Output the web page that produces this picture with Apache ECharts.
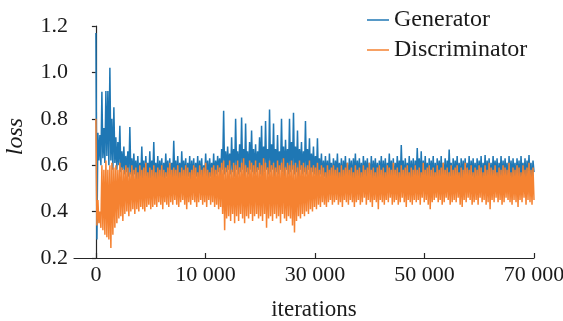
<!DOCTYPE html>
<html>
<head>
<meta charset="utf-8">
<script src="https://cdn.jsdelivr.net/npm/echarts@6/dist/echarts.min.js"></script>
<style>
    html, body { margin: 0; padding: 0; background: #fff; }
    #main { width: 563px; height: 321px; }
</style>
</head>
<body>
<div id="main"></div>
<script>
    // 刻度位置和刻度文字
    var xTickValues = [0, 20000, 40000, 60000, 80000];
    var xTickLabels = ['0', '10 000', '30 000', '50 000', '70 000'];
    var yTicks = [0.2, 0.4, 0.6, 0.8, 1.0, 1.2];

    // Generator loss，上沿 / 下沿 (从图上读出来的)
    var generatorHigh = [
        1.17, 0.74, 0.73, 0.917, 0.76, 0.92, 0.92, 1.02, 0.80, 0.85,
        0.72, 0.70, 0.77, 0.66, 0.68, 0.64, 0.66, 0.765, 0.63, 0.65,
        0.62, 0.64, 0.61, 0.68, 0.62, 0.64, 0.61, 0.66, 0.62, 0.70,
        0.61, 0.64, 0.62, 0.63, 0.61, 0.65, 0.62, 0.63, 0.61, 0.705,
        0.62, 0.64, 0.61, 0.66, 0.62, 0.63, 0.61, 0.64, 0.62, 0.63,
        0.61, 0.64, 0.62, 0.63, 0.60, 0.65, 0.62, 0.63, 0.61, 0.65,
        0.62, 0.64, 0.63, 0.67, 0.835, 0.66, 0.68, 0.65, 0.72, 0.67,
        0.80, 0.66, 0.69, 0.806, 0.67, 0.78, 0.66, 0.70, 0.75, 0.67,
        0.69, 0.66, 0.72, 0.77, 0.68, 0.79, 0.67, 0.84, 0.69, 0.78,
        0.67, 0.73, 0.66, 0.80, 0.68, 0.71, 0.67, 0.80, 0.70, 0.826,
        0.68, 0.75, 0.67, 0.70, 0.66, 0.79, 0.67, 0.716, 0.65, 0.68,
        0.64, 0.716, 0.63, 0.65, 0.62, 0.64, 0.62, 0.65, 0.61, 0.63,
        0.62, 0.65, 0.61, 0.63, 0.62, 0.64, 0.61, 0.63, 0.62, 0.63,
        0.65, 0.62, 0.63, 0.61, 0.64, 0.62, 0.63, 0.61, 0.64, 0.62,
        0.63, 0.61, 0.62, 0.64, 0.62, 0.63, 0.61, 0.65, 0.62, 0.63,
        0.61, 0.64, 0.62, 0.687, 0.62, 0.63, 0.61, 0.64, 0.62, 0.63,
        0.62, 0.674, 0.63, 0.66, 0.62, 0.64, 0.61, 0.63, 0.62, 0.64,
        0.61, 0.63, 0.62, 0.64, 0.61, 0.63, 0.62, 0.668, 0.61, 0.63,
        0.62, 0.64, 0.61, 0.63, 0.62, 0.63, 0.61, 0.64, 0.62, 0.63,
        0.61, 0.63, 0.62, 0.64, 0.61, 0.644, 0.62, 0.63, 0.61, 0.64,
        0.62, 0.63, 0.61, 0.64, 0.62, 0.63, 0.61, 0.64, 0.62, 0.63,
        0.61, 0.63, 0.62, 0.64, 0.61, 0.63, 0.62, 0.644, 0.61, 0.62
    ];
    var generatorLow = [
        0.28, 0.62, 0.60, 0.63, 0.61, 0.64, 0.60, 0.62, 0.58, 0.61,
        0.58, 0.60, 0.57, 0.58, 0.56, 0.57, 0.55, 0.56, 0.55, 0.56,
        0.54, 0.53, 0.55, 0.54, 0.52, 0.55, 0.53, 0.54, 0.55, 0.53,
        0.54, 0.52, 0.55, 0.53, 0.54, 0.55, 0.53, 0.52, 0.54, 0.55,
        0.53, 0.54, 0.52, 0.55, 0.54, 0.53, 0.55, 0.52, 0.54, 0.53,
        0.55, 0.53, 0.54, 0.52, 0.55, 0.54, 0.53, 0.55, 0.54, 0.53,
        0.56, 0.57, 0.55, 0.58, 0.56, 0.57, 0.58, 0.56, 0.57, 0.55,
        0.58, 0.56, 0.57, 0.58, 0.55, 0.57, 0.56, 0.58, 0.57, 0.56,
        0.57, 0.58, 0.56, 0.55, 0.57, 0.58, 0.56, 0.57, 0.58, 0.55,
        0.57, 0.56, 0.58, 0.57, 0.55, 0.58, 0.56, 0.57, 0.58, 0.56,
        0.57, 0.55, 0.58, 0.56, 0.57, 0.56, 0.58, 0.55, 0.57, 0.56,
        0.55, 0.54, 0.56, 0.53, 0.55, 0.54, 0.52, 0.55, 0.53, 0.54,
        0.55, 0.53, 0.54, 0.52, 0.55, 0.54, 0.53, 0.55, 0.52, 0.54,
        0.53, 0.55, 0.54, 0.52, 0.54, 0.55, 0.53, 0.54, 0.52, 0.55,
        0.54, 0.53, 0.55, 0.52, 0.54, 0.53, 0.55, 0.54, 0.53, 0.52,
        0.55, 0.54, 0.53, 0.55, 0.52, 0.54, 0.55, 0.53, 0.54, 0.52,
        0.54, 0.55, 0.53, 0.52, 0.55, 0.54, 0.53, 0.55, 0.54, 0.52,
        0.53, 0.55, 0.54, 0.52, 0.55, 0.53, 0.54, 0.55, 0.52, 0.54,
        0.55, 0.53, 0.52, 0.54, 0.55, 0.53, 0.54, 0.52, 0.55, 0.54,
        0.53, 0.54, 0.55, 0.52, 0.54, 0.53, 0.55, 0.54, 0.52, 0.55,
        0.54, 0.52, 0.55, 0.53, 0.54, 0.55, 0.52, 0.54, 0.53, 0.55,
        0.53, 0.54, 0.52, 0.55, 0.54, 0.53, 0.55, 0.54, 0.52, 0.57
    ];

    // Discriminator loss，上沿 / 下沿
    var discriminatorHigh = [
        0.80, 0.45, 0.40, 0.60, 0.58, 0.62, 0.58, 0.60, 0.61, 0.59,
        0.60, 0.58, 0.61, 0.59, 0.58, 0.60, 0.59, 0.57, 0.60, 0.58,
        0.59, 0.57, 0.60, 0.58, 0.59, 0.61, 0.57, 0.59, 0.58, 0.60,
        0.57, 0.59, 0.58, 0.60, 0.58, 0.57, 0.59, 0.61, 0.58, 0.59,
        0.58, 0.60, 0.57, 0.59, 0.58, 0.60, 0.59, 0.57, 0.58, 0.60,
        0.59, 0.57, 0.60, 0.58, 0.59, 0.61, 0.58, 0.57, 0.59, 0.60,
        0.58, 0.60, 0.59, 0.61, 0.62, 0.59, 0.60, 0.62, 0.58, 0.61,
        0.60, 0.62, 0.59, 0.61, 0.63, 0.60, 0.59, 0.62, 0.61, 0.60,
        0.62, 0.59, 0.61, 0.60, 0.63, 0.61, 0.59, 0.62, 0.60, 0.61,
        0.59, 0.62, 0.60, 0.61, 0.63, 0.59, 0.61, 0.60, 0.62, 0.60,
        0.61, 0.59, 0.62, 0.60, 0.61, 0.59, 0.60, 0.62, 0.59, 0.60,
        0.59, 0.61, 0.58, 0.60, 0.59, 0.57, 0.60, 0.58, 0.59, 0.60,
        0.58, 0.59, 0.57, 0.60, 0.58, 0.59, 0.61, 0.58, 0.59, 0.57,
        0.60, 0.58, 0.59, 0.57, 0.60, 0.58, 0.59, 0.61, 0.58, 0.59,
        0.57, 0.59, 0.60, 0.58, 0.59, 0.57, 0.60, 0.59, 0.58, 0.61,
        0.58, 0.59, 0.57, 0.60, 0.58, 0.59, 0.60, 0.57, 0.59, 0.58,
        0.60, 0.58, 0.59, 0.57, 0.61, 0.58, 0.59, 0.60, 0.58, 0.59,
        0.57, 0.60, 0.58, 0.59, 0.61, 0.58, 0.59, 0.57, 0.60, 0.58,
        0.59, 0.60, 0.57, 0.59, 0.58, 0.61, 0.59, 0.58, 0.60, 0.57,
        0.59, 0.58, 0.60, 0.59, 0.57, 0.60, 0.58, 0.61, 0.59, 0.58,
        0.60, 0.57, 0.59, 0.58, 0.60, 0.59, 0.58, 0.61, 0.57, 0.59,
        0.58, 0.60, 0.59, 0.57, 0.60, 0.58, 0.59, 0.61, 0.58, 0.59
    ];
    var discriminatorLow = [
        0.34, 0.35, 0.33, 0.32, 0.30, 0.29, 0.28, 0.243, 0.30, 0.33,
        0.35, 0.37, 0.38, 0.36, 0.39, 0.40, 0.38, 0.40, 0.41, 0.39,
        0.41, 0.40, 0.42, 0.41, 0.40, 0.42, 0.43, 0.41, 0.42, 0.43,
        0.42, 0.44, 0.43, 0.41, 0.44, 0.43, 0.42, 0.44, 0.43, 0.45,
        0.43, 0.42, 0.44, 0.45, 0.43, 0.41, 0.44, 0.43, 0.45, 0.44,
        0.42, 0.44, 0.45, 0.43, 0.44, 0.42, 0.45, 0.43, 0.44, 0.42,
        0.43, 0.41, 0.42, 0.39, 0.32, 0.37, 0.38, 0.36, 0.39, 0.35,
        0.38, 0.36, 0.39, 0.37, 0.35, 0.38, 0.37, 0.39, 0.36, 0.38,
        0.39, 0.37, 0.38, 0.36, 0.39, 0.33, 0.37, 0.38, 0.36, 0.39,
        0.37, 0.38, 0.35, 0.39, 0.37, 0.36, 0.38, 0.37, 0.34, 0.31,
        0.36, 0.38, 0.37, 0.39, 0.38, 0.40, 0.39, 0.41, 0.40, 0.42,
        0.41, 0.43, 0.42, 0.44, 0.43, 0.42, 0.44, 0.45, 0.43, 0.44,
        0.45, 0.43, 0.44, 0.42, 0.45, 0.44, 0.43, 0.45, 0.44, 0.42,
        0.44, 0.45, 0.43, 0.44, 0.46, 0.43, 0.45, 0.44, 0.42, 0.45,
        0.44, 0.41, 0.45, 0.44, 0.43, 0.45, 0.44, 0.46, 0.43, 0.44,
        0.45, 0.43, 0.44, 0.46, 0.44, 0.42, 0.45, 0.44, 0.43, 0.45,
        0.44, 0.45, 0.43, 0.46, 0.44, 0.45, 0.43, 0.41, 0.44, 0.45,
        0.46, 0.44, 0.45, 0.43, 0.44, 0.46, 0.45, 0.43, 0.44, 0.45,
        0.44, 0.46, 0.43, 0.42, 0.45, 0.44, 0.46, 0.45, 0.43, 0.44,
        0.45, 0.43, 0.46, 0.44, 0.45, 0.43, 0.44, 0.41, 0.45, 0.44,
        0.46, 0.44, 0.45, 0.43, 0.44, 0.46, 0.45, 0.44, 0.43, 0.45,
        0.44, 0.42, 0.45, 0.44, 0.46, 0.43, 0.45, 0.44, 0.43, 0.45
    ];

    var xEnd = 80000;   // 最后一个刻度
    var fontName = 'Liberation Serif';

    // 上沿、下沿交替排开，按序号均匀铺到 0 ~ xEnd
    function toPairs(high, low) {
        var out = [];
        var total = high.length * 2;
        for (var i = 0; i < high.length; i++) {
            out.push([(2 * i) * xEnd / (total - 1), high[i]]);
            out.push([(2 * i + 1) * xEnd / (total - 1), low[i]]);
        }
        return out;
    }

    var myChart = echarts.init(document.getElementById('main'), null, { renderer: 'canvas' });

    var option = {
        animation: false,
        backgroundColor: '#fff',
        grid: {
            left: 74,
            right: 29,
            top: 26,
            bottom: 63,
            outerBoundsMode: 'none'
        },
        legend: {
            orient: 'vertical',
            left: 367,
            top: 8,
            padding: 0,
            icon: 'rect',
            itemWidth: 22,
            itemHeight: 1.5,
            itemGap: 6,
            textStyle: {
                fontFamily: fontName,
                fontSize: 24,
                color: '#1a1a1a',
                lineHeight: 22
            },
            data: ['Generator', 'Discriminator']
        },
        xAxis: {
            type: 'value',
            min: -4000,
            max: xEnd,
            name: 'iterations',
            nameLocation: 'middle',
            nameGap: 40,
            nameTextStyle: {
                fontFamily: fontName,
                fontSize: 23,
                color: '#1a1a1a',
                padding: [0, 0, 0, 20]
            },
            axisLine: {
                lineStyle: { color: '#262626', width: 1.2 }
            },
            axisTick: {
                show: true,
                inside: true,
                length: 5,
                customValues: xTickValues,
                lineStyle: { color: '#262626', width: 1.2 }
            },
            axisLabel: {
                customValues: xTickValues,
                margin: 6,
                fontFamily: fontName,
                fontSize: 22,
                color: '#1a1a1a',
                formatter: function (value) {
                    var idx = xTickValues.indexOf(value);
                    return idx >= 0 ? xTickLabels[idx] : '';
                }
            },
            splitLine: { show: false }
        },
        yAxis: {
            type: 'value',
            min: yTicks[0],
            max: yTicks[yTicks.length - 1],
            interval: 0.2,
            name: 'loss',
            nameLocation: 'middle',
            nameGap: 46,
            nameRotate: 90,
            nameTextStyle: {
                fontFamily: fontName,
                fontStyle: 'italic',
                fontSize: 24,
                color: '#1a1a1a',
                padding: [0, 0, 0, 11]
            },
            axisLine: {
                show: true,
                lineStyle: { color: '#262626', width: 1.2 }
            },
            axisTick: {
                show: true,
                inside: false,
                length: 4,
                lineStyle: { color: '#262626', width: 1.2 }
            },
            axisLabel: {
                margin: 6,
                fontFamily: fontName,
                fontSize: 22,
                color: '#1a1a1a',
                formatter: function (value) {
                    return value.toFixed(1);
                }
            },
            splitLine: { show: false }
        },
        series: [{
            name: 'Generator',
            type: 'line',
            showSymbol: false,
            symbol: 'none',
            color: '#1f77b4',
            lineStyle: { width: 1.5, color: '#1f77b4' },
            data: toPairs(generatorHigh, generatorLow)
        }, {
            name: 'Discriminator',
            type: 'line',
            showSymbol: false,
            symbol: 'none',
            color: '#f58231',
            lineStyle: { width: 1.5, color: '#f58231' },
            data: toPairs(discriminatorHigh, discriminatorLow)
        }]
    };

    myChart.setOption(option);
</script>
</body>
</html>
